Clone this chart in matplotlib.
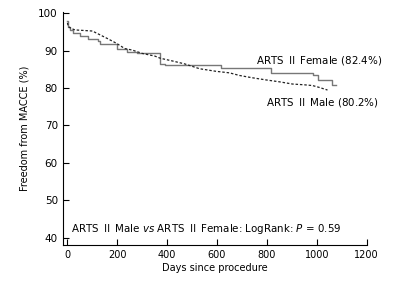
import matplotlib
matplotlib.use('Agg')
import matplotlib.pyplot as plt

plt.rcParams['font.family'] = ['DejaVu Sans', 'Noto Sans CJK SC']
# 罗马数字用CJK字体，斜体用无衬线斜体
plt.rcParams['mathtext.fontset'] = 'custom'
plt.rcParams['mathtext.rm'] = 'Noto Sans CJK SC'
plt.rcParams['mathtext.it'] = 'DejaVu Sans:italic'

# 数据
female_days = [0, 3, 10, 23, 50, 83, 123, 130, 197, 237, 277, 373, 390, 617, 817, 983, 1003, 1063, 1079]
female_vals = [98.0, 96.5, 95.6, 94.8, 94.0, 93.2, 92.5, 91.8, 90.6, 89.7, 89.3, 86.6, 86.1, 85.4, 84.1, 83.4, 82.2, 80.8, 80.8]

male_days = [0, 3, 15, 30, 100, 130, 160, 197, 230, 260, 300, 350, 373, 420, 470, 530, 597, 650, 690,
             740, 797, 850, 903, 950, 983, 1010, 1043]
male_vals = [97.5, 96.5, 96.0, 95.6, 95.3, 94.3, 93.3, 92.0, 90.6, 90.2, 89.3, 88.6, 88.0, 87.3, 86.5, 85.2,
             84.5, 84.1, 83.4, 82.8, 82.2, 81.7, 81.1, 80.9, 80.7, 80.2, 79.5]

x_ticks = [0, 200, 400, 600, 800, 1000, 1200]
y_ticks = [40, 50, 60, 70, 80, 90, 100]

II = r'$\mathrm{Ⅱ}$'

fig = plt.figure(figsize=(4.02, 2.86), dpi=100)
ax = fig.add_axes([0.156, 0.1434, 0.756, 0.816])

ax.plot(female_days, female_vals, drawstyle='steps-post', color='#777777', lw=1.0)
ax.plot(male_days, male_vals, color='#222222', lw=0.9, ls=(0, (2.0, 1.5)))

ax.set_xlim(-19, 1200)
ax.set_ylim(38, 100.5)
ax.set_xticks(x_ticks)
ax.set_yticks(y_ticks)
ax.tick_params(direction='in', labelsize=7, length=4, width=0.8)
ax.tick_params(axis='y', labelsize=7.5)
ax.spines['top'].set_visible(False)
ax.spines['right'].set_visible(False)

ax.set_xlabel('Days since procedure', fontsize=7, labelpad=2)
ax.set_ylabel('Freedom from MACCE (%)', fontsize=7, labelpad=6)

ax.text(757, 87.3, 'ARTS ' + II + ' Female (82.4%)', fontsize=7.4, va='center', clip_on=False)
ax.text(797, 76.2, 'ARTS ' + II + ' Male (80.2%)', fontsize=7.4, va='center', clip_on=False)
ax.text(15, 42.2, 'ARTS ' + II + ' Male $\\it{vs}$ ARTS ' + II + ' Female: LogRank: $\\it{P}$ = 0.59',
        fontsize=7.4, va='center')

fig.savefig('out.png', dpi=100)
